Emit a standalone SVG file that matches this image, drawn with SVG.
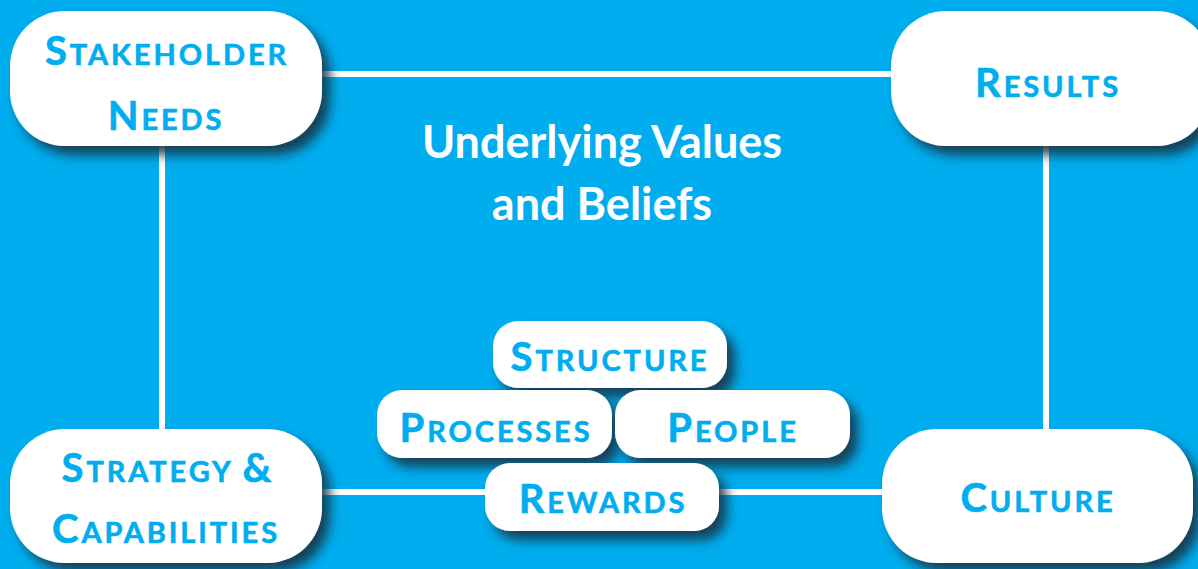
<svg xmlns="http://www.w3.org/2000/svg" width="1198" height="569" viewBox="0 0 1198 569">
<defs>
<filter id="sh" x="-20%" y="-30%" width="140%" height="170%">
<feDropShadow dx="8" dy="9" stdDeviation="6" flood-color="#163447" flood-opacity="0.9"/>
</filter>
<style>
.box{fill:#fff;filter:url(#sh)}
.lbl{font-family:Lato,"Liberation Sans",sans-serif;font-weight:bold;fill:#00ADEF;stroke:#00ADEF;stroke-width:0.6px;text-anchor:middle;font-size:29px;letter-spacing:2.9px}
.big{font-size:40px}
.title{font-family:Lato,"Liberation Sans",sans-serif;font-weight:bold;fill:#fff;text-anchor:middle;font-size:45px}
.conn{stroke:#fff;stroke-width:6;fill:none}
</style>
</defs>
<rect width="1198" height="569" fill="#00ADEF"/>
<g id="connectors">
<line class="conn" x1="300" y1="74" x2="920" y2="74"/>
<line class="conn" x1="162" y1="120" x2="162" y2="450"/>
<line class="conn" x1="1046" y1="120" x2="1046" y2="450"/>
<line class="conn" x1="300" y1="492" x2="900" y2="492"/>
</g>
<g id="title">
<text class="title" x="602" y="158">Underlying Values</text>
<text class="title" x="602" y="220">and Beliefs</text>
</g>
<g id="stakeholder">
<rect class="box" x="10" y="11" width="312" height="135" rx="55"/>
<text class="lbl" x="167" y="65"><tspan class="big">S</tspan>TAKEHOLDER</text>
<text class="lbl" x="166" y="130"><tspan class="big">N</tspan>EEDS</text>
</g>
<g id="results">
<rect class="box" x="891" y="11" width="320" height="135" rx="55"/>
<text class="lbl" x="1048" y="97"><tspan class="big">R</tspan>ESULTS</text>
</g>
<g id="strategy">
<rect class="box" x="10" y="429" width="312" height="134" rx="55"/>
<text class="lbl" x="168" y="482"><tspan class="big">S</tspan>TRATEGY <tspan class="big">&amp;</tspan></text>
<text class="lbl" x="166" y="543"><tspan class="big">C</tspan>APABILITIES</text>
</g>
<g id="culture">
<rect class="box" x="882" y="429" width="311" height="134" rx="55"/>
<text class="lbl" x="1038" y="512"><tspan class="big">C</tspan>ULTURE</text>
</g>
<g id="structure">
<rect class="box" x="493" y="321" width="234" height="67" rx="25"/>
<text class="lbl" x="610" y="371"><tspan class="big">S</tspan>TRUCTURE</text>
</g>
<g id="processes">
<rect class="box" x="377" y="390" width="235" height="68" rx="25"/>
<text class="lbl" x="496" y="442"><tspan class="big">P</tspan>ROCESSES</text>
</g>
<g id="people">
<rect class="box" x="615" y="390" width="235" height="68" rx="25"/>
<text class="lbl" x="733" y="442"><tspan class="big">P</tspan>EOPLE</text>
</g>
<g id="rewards">
<rect class="box" x="485" y="463" width="234" height="68" rx="25"/>
<text class="lbl" x="603" y="513"><tspan class="big">R</tspan>EWARDS</text>
</g>
</svg>
